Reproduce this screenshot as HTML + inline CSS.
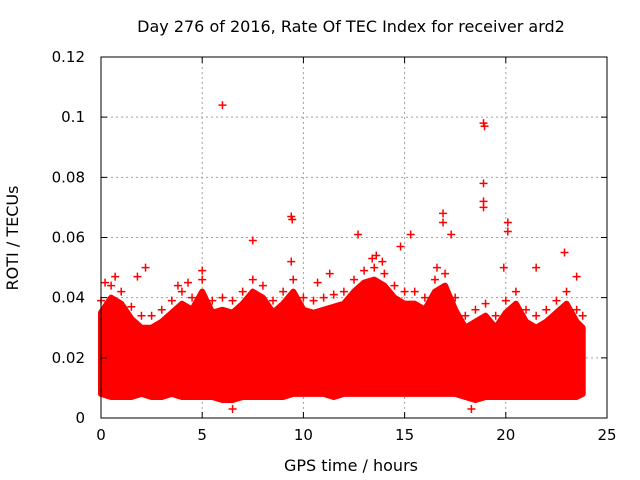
<!DOCTYPE html>
<html><head><meta charset="utf-8"><style>
html,body{margin:0;padding:0;background:#fff;}
svg{display:block;font-family:"DejaVu Sans","Liberation Sans",sans-serif;}
</style></head><body>
<svg id="chart" width="640" height="480">
<text x="351" y="32" text-anchor="middle" font-size="16">Day 276 of 2016, Rate Of TEC Index for receiver ard2</text>
<text x="351" y="471" text-anchor="middle" font-size="16">GPS time / hours</text>
<text transform="translate(18,238) rotate(-90)" text-anchor="middle" font-size="16">ROTI / TECUs</text>
<g id="grid"></g><g id="data"></g><g id="axes"></g>
</svg>
<script>
const bandTimes=[0,0.5,1,1.5,2,2.5,3,3.5,4,4.5,5,5.5,6,6.5,7,7.5,8,8.5,9,9.5,10,10.5,11,11.5,12,12.5,13,13.5,14,14.5,15,15.5,16,16.5,17,17.5,18,18.5,19,19.5,20,20.5,21,21.5,22,22.5,23,23.5,23.8];
const bandUpper=[0.035,0.04,0.038,0.033,0.03,0.03,0.032,0.035,0.038,0.036,0.042,0.035,0.036,0.035,0.038,0.042,0.04,0.035,0.038,0.042,0.036,0.035,0.036,0.037,0.038,0.042,0.045,0.046,0.044,0.04,0.038,0.038,0.036,0.042,0.044,0.036,0.03,0.032,0.034,0.03,0.035,0.038,0.032,0.03,0.032,0.035,0.038,0.032,0.03];
const bandLower=[0.008,0.007,0.007,0.007,0.008,0.007,0.007,0.008,0.007,0.007,0.007,0.007,0.006,0.006,0.007,0.007,0.007,0.007,0.007,0.008,0.008,0.008,0.008,0.007,0.008,0.008,0.008,0.008,0.008,0.008,0.008,0.008,0.008,0.008,0.008,0.008,0.007,0.006,0.007,0.007,0.007,0.007,0.007,0.007,0.007,0.007,0.007,0.007,0.008];
const outX=[6,18.9,18.95,18.9,18.9,18.9,9.4,9.45,16.9,16.9,20.1,20.1,12.7,15.3,7.5,17.3,2.2,0.2,22.9,14.8,6.5,18.3,13.4,13.6,5,9.4,23.5,21.5,1.8,4.3,11.3,13.9,16.6,19.9,0.7,3.8,10.7];
const outY=[0.104,0.098,0.097,0.078,0.072,0.070,0.067,0.066,0.068,0.065,0.065,0.062,0.061,0.061,0.059,0.061,0.050,0.045,0.055,0.057,0.003,0.003,0.053,0.054,0.049,0.052,0.047,0.050,0.047,0.045,0.048,0.052,0.050,0.05,0.047,0.044,0.045];
const xTicks=[0,5,10,15,20,25];
const yTicks=[0,0.02,0.04,0.06,0.08,0.1,0.12];
const yLabels=["0","0.02","0.04","0.06","0.08","0.1","0.12"];
const L=101,R=607,T=57,B=418;
const sx=v=>L+(v-0)/25*(R-L), sy=v=>B-v/0.12*(B-T);
const NS="http://www.w3.org/2000/svg";
function mk(tag,attrs,parent){const e=document.createElementNS(NS,tag);for(const k in attrs)e.setAttribute(k,attrs[k]);parent.appendChild(e);return e;}
const grid=document.getElementById('grid'),data=document.getElementById('data'),axes=document.getElementById('axes');
xTicks.forEach((t,i)=>{
 if(i>0&&i<xTicks.length-1){const g=mk('line',{x1:sx(t),x2:sx(t),y1:T,y2:B,stroke:'#a0a0a0','stroke-dasharray':'2,3'},grid);
 
 }
 const tk=mk('path',{d:`M${sx(t)},${B}v-6M${sx(t)},${T}v6`,stroke:'#000'},axes);
 
 
 const lb=mk('text',{x:sx(t),y:B+22,'text-anchor':'middle','font-size':15},axes);lb.textContent=t;
 
 
});
yTicks.forEach((t,i)=>{
 if(i>0&&i<yTicks.length-1){const g=mk('line',{x1:L,x2:R,y1:sy(t),y2:sy(t),stroke:'#a0a0a0','stroke-dasharray':'2,3'},grid);
 
 }
 const tk=mk('path',{d:`M${L},${sy(t)}h6M${R},${sy(t)}h-6`,stroke:'#000'},axes);
 
 
 const lb=mk('text',{x:L-16,y:sy(t)+5,'text-anchor':'end','font-size':15},axes);lb.textContent=yLabels[i];
 
 
});
const fr=mk('rect',{x:L,y:T,width:R-L,height:B-T,fill:'none',stroke:'#000'},axes);


let d='M'+bandTimes.map((t,i)=>sx(t)+','+sy(bandUpper[i])).join('L');
for(let i=bandTimes.length-1;i>=0;i--)d+='L'+sx(bandTimes[i])+','+sy(bandLower[i]);
const band=mk('path',{d:d+'Z',fill:'#ff0000',stroke:'#ff0000','stroke-width':6,'stroke-linejoin':'round'},data);


function plus(x,y,name){const p=mk('path',{d:`M${sx(x)-4},${sy(y)}h8M${sx(x)},${sy(y)-4}v8`,stroke:'#ff0000','stroke-width':1.5},data);
 
 }
bandTimes.forEach((t,i)=>plus(t,bandUpper[i]+0.004,'roti-point'));
outX.forEach((x,i)=>plus(x,outY[i],'roti-outlier'));
</script>
</body></html>
